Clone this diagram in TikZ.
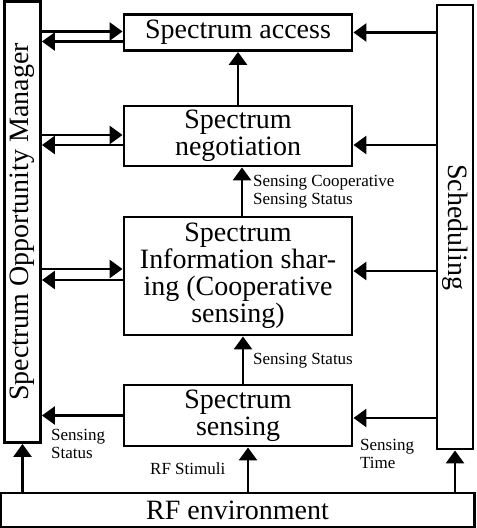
\documentclass[tikz,border=0pt]{standalone}
\usepackage{fontspec}
\setmainfont{Liberation Serif}
\usetikzlibrary{positioning,arrows.meta}

\begin{document}
\begin{tikzpicture}[
  x=1pt, y=1pt,
  block/.style={draw, line width=2.9pt, align=center, inner sep=2pt,
                minimum width=228pt, font=\fontsize{28}{27}\selectfont},
  bar/.style={draw, line width=2.9pt, minimum width=36pt, inner sep=0pt},
  vtext/.style={font=\fontsize{28}{28}\selectfont},
  flow/.style={-{Triangle[length=13pt,width=18pt]}, line width=2.8pt},
  lbl/.style={font=\fontsize{17}{18}\selectfont, align=left, inner sep=0pt, anchor=west},
]
\useasboundingbox (0,0) rectangle (477,528);

% ---------------- NODES (absolute, pt; y measured up) ----------------
\node[block, minimum height=36pt] (ACCESS) at (238,495.5) {Spectrum access};
\node[block, minimum height=60pt] (NEGO) at (238,392) {Spectrum\\negotiation};
\node[block, minimum height=118pt] (INFO) at (238,252)
  {Spectrum\\Information shar-\\ing (Cooperative\\sensing)};
\node[block, minimum height=61pt] (SENSE) at (238,112.5) {Spectrum\\sensing};

% side bars and the environment strip
\node[bar, minimum height=441pt] (OPPMGR) at (22.5,306) {};
\node[vtext, rotate=90] (OPPTXT) at (OPPMGR) {Spectrum Opportunity Manager};
\node[bar, minimum height=444pt] (SCHED) at (455,301) {};
\node[vtext, rotate=-90] (SCHEDTXT) at (SCHED) {Scheduling};
\node[block, minimum width=474pt, minimum height=34pt] (RF) at (237.5,18) {RF environment};

% ---------------- EDGES ----------------
% up the middle column
\draw[flow] (NEGO.north) -- (ACCESS.south);
\draw[flow] ([xshift=4pt]INFO.north) -- ([xshift=4pt]NEGO.south);
\draw[flow] ([xshift=5pt]SENSE.north) -- ([xshift=5pt]INFO.south);
\draw[flow] ([xshift=10pt]SENSE.south |- RF.north) -- ([xshift=10pt]SENSE.south);

% manager <-> blocks (pairs of opposite arrows)
\draw[flow] ([yshift=1pt]ACCESS.west -| OPPMGR.east) -- ([yshift=1pt]ACCESS.west);
\draw[flow] ([yshift=-9pt]ACCESS.west) -- ([yshift=-9pt]ACCESS.west -| OPPMGR.east);
\draw[flow] ([yshift=1pt]NEGO.west -| OPPMGR.east) -- ([yshift=1pt]NEGO.west);
\draw[flow] ([yshift=-9pt]NEGO.west) -- ([yshift=-9pt]NEGO.west -| OPPMGR.east);
\draw[flow] ([yshift=7pt]INFO.west -| OPPMGR.east) -- ([yshift=7pt]INFO.west);
\draw[flow] ([yshift=-4pt]INFO.west) -- ([yshift=-4pt]INFO.west -| OPPMGR.east);
\draw[flow] (SENSE.west) -- (SENSE.west -| OPPMGR.east);

% scheduling -> blocks
\draw[flow] (ACCESS.east -| SCHED.west) -- (ACCESS.east);
\draw[flow] ([yshift=-9pt]NEGO.east -| SCHED.west) -- ([yshift=-9pt]NEGO.east);
\draw[flow] ([yshift=5pt]INFO.east -| SCHED.west) -- ([yshift=5pt]INFO.east);
\draw[flow] ([yshift=-2.5pt]SENSE.east -| SCHED.west) -- ([yshift=-2.5pt]SENSE.east);

% environment feeds both bars
\draw[flow] (RF.north -| OPPMGR.south) -- (OPPMGR.south);
\draw[flow] (RF.north -| SCHED.south) -- (SCHED.south);

% ---------------- LABELS ----------------
\node[lbl] (coopLbl) at (253,336) {Sensing Cooperative\\Sensing Status};
\node[lbl] (statLbl) at (253,167) {Sensing Status};
\node[lbl] (mgrLbl) at (51,84) {Sensing\\Status};
\node[lbl] (stimLbl) at (150,59) {RF Stimuli};
\node[lbl] (timeLbl) at (360,74.5) {Sensing\\Time};
\end{tikzpicture}
\end{document}
